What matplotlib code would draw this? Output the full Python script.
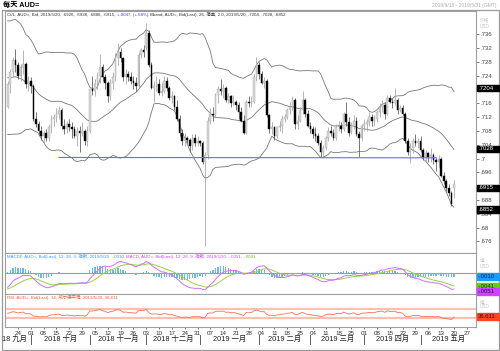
import numpy as np
import pandas as pd
import matplotlib
matplotlib.use('Agg')
import matplotlib.pyplot as plt
from matplotlib.patches import Rectangle
from matplotlib.transforms import blended_transform_factory
from matplotlib.ticker import FuncFormatter

plt.rcParams['font.family'] = ['Liberation Sans', 'Noto Sans CJK SC', 'DejaVu Sans']

W, H = 500, 351

# closes before the visible window (2018-07-02 .. 2018-09-17), used only to warm up the indicators
warmup_close = [
    .7340, .7410, .7395, .7420, .7430, .7455, .7440, .7390, .7400, .7400,
    .7425, .7390, .7370, .7355, .7420, .7405, .7425, .7450, .7410, .7395,
    .7405, .7425,
    .7405, .7395, .7400, .7405, .7440, .7410, .7385, .7300, .7275, .7260,
    .7230, .7250, .7315, .7335, .7370, .7375, .7290, .7320, .7335, .7345,
    .7325, .7230, .7190,
    .7185, .7195, .7175, .7135, .7110, .7135, .7115, .7185, .7175, .7145,
    .7155,
]

# daily bars 2018-09-18 .. 2019-05-20, one line per week
opens = [
    .7150, .7215, .7250, .7285,
    .7270, .7240, .7265, .7275, .7215,
    .7225, .7210, .7115, .7100, .7080,
    .7065, .7075, .7060, .7090, .7115,
    .7120, .7130, .7140, .7095, .7085,
    .7100, .7090, .7085, .7065, .7080,
    .7075, .7080, .7050, .7080, .7200,
    .7195, .7215, .7240, .7265, .7235,
    .7220, .7180, .7220, .7235, .7290,
    .7310, .7290, .7235, .7245, .7235,
    .7225, .7220, .7210, .7300, .7315,
    .7320, .7365, .7270, .7205, .7210,
    .7215, .7190, .7195, .7225, .7205,
    .7175, .7180, .7150, .7115, .7075,
    .7050, .7060, .7055, .7035, .7060,
    .7045, .7050, .7045, .6990, .7010,
    .7110, .7130, .7125, .7185, .7200,
    .7195, .7205, .7170, .7180, .7160,
    .7165, .7155, .7135, .7110, .7075,
    .7165, .7160, .7165, .7235, .7270,
    .7245, .7220, .7225, .7125, .7085,
    .7090, .7065, .7090, .7095, .7115,
    .7120, .7140, .7150, .7170, .7100,
    .7110, .7140, .7170, .7130, .7095,
    .7085, .7070, .7065, .7045, .7020,
    .7030, .7060, .7080, .7075, .7060,
    .7090, .7095, .7085, .7130, .7105,
    .7075, .7095, .7110, .7070, .7060,
    .7095, .7100, .7105, .7120, .7110,
    .7115, .7135, .7150, .7155, .7130,
    .7175, .7165, .7160, .7170, .7140,
    .7145, .7130, .7050, .7020, .7030,
    .7050, .7045, .7050, .7025, .7005,
    .7015, .7005, .7010, .6995, .6990,
    .7000, .6950, .6935, .6915, .6900,
    .6926,
]
highs = [
    .7225, .7260, .7295, .7316,
    .7280, .7275, .7315, .7280, .7240,
    .7235, .7215, .7135, .7110, .7095,
    .7080, .7085, .7100, .7125, .7130,
    .7145, .7152, .7145, .7115, .7110,
    .7115, .7105, .7095, .7090, .7095,
    .7105, .7085, .7095, .7205, .7240,
    .7230, .7250, .7302, .7275, .7245,
    .7225, .7230, .7250, .7305, .7335,
    .7320, .7295, .7260, .7255, .7250,
    .7240, .7235, .7310, .7320, .7330,
    .7394, .7372, .7280, .7225, .7240,
    .7230, .7220, .7240, .7235, .7210,
    .7195, .7185, .7170, .7125, .7085,
    .7075, .7065, .7060, .7070, .7070,
    .7065, .7055, .7050, .7020, .7120,
    .7145, .7150, .7190, .7210, .7230,
    .7215, .7210, .7190, .7185, .7185,
    .7170, .7165, .7150, .7125, .7170,
    .7180, .7180, .7245, .7295, .7280,
    .7255, .7235, .7230, .7130, .7105,
    .7095, .7095, .7110, .7125, .7130,
    .7145, .7165, .7180, .7175, .7125,
    .7150, .7195, .7175, .7140, .7105,
    .7095, .7090, .7075, .7055, .7040,
    .7065, .7090, .7095, .7085, .7100,
    .7110, .7105, .7135, .7165, .7120,
    .7105, .7125, .7120, .7080, .7100,
    .7115, .7115, .7135, .7130, .7125,
    .7140, .7160, .7170, .7165, .7185,
    .7185, .7175, .7205, .7175, .7155,
    .7155, .7135, .7060, .7045, .7060,
    .7070, .7060, .7065, .7030, .7025,
    .7020, .7030, .7015, .7005, .7010,
    .7005, .6960, .6940, .6925, .6905,
    .6938,
]
lows = [
    .7145, .7190, .7235, .7250,
    .7230, .7225, .7245, .7205, .7195,
    .7190, .7110, .7090, .7070, .7055,
    .7041, .7050, .7050, .7075, .7095,
    .7105, .7115, .7085, .7070, .7075,
    .7080, .7060, .7060, .7035, .7020,
    .7065, .7040, .7035, .7075, .7185,
    .7180, .7200, .7220, .7225, .7200,
    .7165, .7170, .7200, .7225, .7270,
    .7280, .7225, .7215, .7225, .7215,
    .7200, .7195, .7205, .7290, .7295,
    .7315, .7265, .7200, .7165, .7195,
    .7185, .7180, .7190, .7195, .7170,
    .7160, .7140, .7110, .7065, .7040,
    .7035, .7045, .7020, .7025, .7035,
    .7035, .7035, .6985, .6746, .7000,
    .7100, .7110, .7120, .7160, .7185,
    .7175, .7165, .7160, .7150, .7155,
    .7140, .7115, .7105, .7070, .7070,
    .7150, .7150, .7160, .7225, .7230,
    .7215, .7205, .7120, .7075, .7070,
    .7055, .7060, .7080, .7075, .7105,
    .7115, .7130, .7140, .7085, .7085,
    .7105, .7130, .7120, .7090, .7075,
    .7060, .7050, .7040, .7005, .7003,
    .7025, .7050, .7065, .7055, .7055,
    .7080, .7075, .7080, .7095, .7065,
    .7070, .7085, .7065, .7005, .7050,
    .7080, .7080, .7095, .7095, .7095,
    .7105, .7120, .7135, .7115, .7125,
    .7160, .7145, .7155, .7130, .7135,
    .7125, .7045, .7010, .6988, .7015,
    .7035, .7030, .7020, .6995, .6990,
    .6990, .6990, .6985, .6965, .6975,
    .6945, .6925, .6905, .6890, .6862,
    .6886,
]
closes = [
    .7215, .7250, .7285, .7270,
    .7240, .7265, .7275, .7215, .7225,
    .7210, .7115, .7100, .7080, .7065,
    .7075, .7060, .7090, .7115, .7120,
    .7130, .7140, .7095, .7085, .7100,
    .7090, .7085, .7065, .7080, .7075,
    .7080, .7050, .7080, .7200, .7195,
    .7215, .7240, .7265, .7235, .7220,
    .7180, .7220, .7235, .7290, .7310,
    .7290, .7235, .7245, .7235, .7225,
    .7220, .7210, .7300, .7315, .7310,
    .7365, .7270, .7205, .7210, .7215,
    .7190, .7195, .7225, .7205, .7175,
    .7180, .7150, .7115, .7075, .7050,
    .7060, .7055, .7035, .7060, .7045,
    .7050, .7045, .6990, .7010, .7110,
    .7130, .7125, .7185, .7200, .7195,
    .7205, .7170, .7180, .7160, .7165,
    .7155, .7135, .7110, .7075, .7165,
    .7160, .7165, .7235, .7270, .7245,
    .7220, .7225, .7125, .7085, .7090,
    .7065, .7090, .7095, .7115, .7120,
    .7140, .7150, .7170, .7100, .7110,
    .7140, .7170, .7130, .7095, .7085,
    .7070, .7065, .7045, .7020, .7030,
    .7060, .7080, .7075, .7060, .7090,
    .7095, .7085, .7130, .7105, .7075,
    .7095, .7110, .7070, .7060, .7095,
    .7100, .7105, .7120, .7110, .7115,
    .7135, .7150, .7155, .7130, .7175,
    .7165, .7160, .7170, .7140, .7145,
    .7130, .7050, .7020, .7030, .7050,
    .7045, .7050, .7025, .7005, .7015,
    .7005, .7010, .6995, .6990, .7000,
    .6950, .6935, .6915, .6900, .6868,
    .6915,
]

# hand drawn support line
trend_dates = ['2018-10-16', '2019-05-09']
trend_vals = [0.7003, 0.7002]

# values printed in the legend lines / axis boxes
last_bands = [0.7204, 0.7028, 0.6852]
last_close = 0.6915
last_macd = [-0.0010, -0.0051, -0.0041]   # hist, macd, signal
last_rsi = 36.611

# price ticks that sit under a value box
hidden_ticks = [0.720, 0.692]

month_names = ['一月', '二月', '三月', '四月', '五月', '六月',
               '七月', '八月', '九月', '十月', '十一月', '十二月']

# ---------------------------------------------------------------
dates = pd.bdate_range('2018-09-18', '2019-05-20')
axis_dates = pd.bdate_range('2018-09-18', '2019-05-31')
o = np.array(opens); h = np.array(highs); l = np.array(lows); c = np.array(closes)
n = len(c)
x = np.arange(n)

full = pd.Series(warmup_close + closes)
mid = full.rolling(26).mean()
sd = full.rolling(26).std(ddof=0)
upper = (mid + 2 * sd).values[-n:]
lower = (mid - 2 * sd).values[-n:]
mid = mid.values[-n:]

ema12 = full.ewm(span=12, adjust=False).mean()
ema26 = full.ewm(span=26, adjust=False).mean()
macd = ema12 - ema26
signal = macd.ewm(span=9, adjust=False).mean()
hist = (macd - signal).values[-n:]
macd = macd.values[-n:]
signal = signal.values[-n:]

delta = full.diff()
gain = delta.clip(lower=0).ewm(alpha=1 / 14, adjust=False).mean()
loss = (-delta.clip(upper=0)).ewm(alpha=1 / 14, adjust=False).mean()
rsi = (100 - 100 / (1 + gain / loss)).values[-n:]


def fx(px):
    return px / W


def fy(py):
    return 1 - py / H


fig = plt.figure(figsize=(W / 100, H / 100), dpi=100)
fig.patches.append(Rectangle((fx(1.5), fy(349.5)), fx(497), fy(9.5) - fy(349.5),
                             transform=fig.transFigure, fill=False,
                             edgecolor='#9a9a9a', lw=0.9))

L, R = 5, 476
ax = fig.add_axes([fx(L), fy(252.7), fx(R) - fx(L), fy(11) - fy(252.7)])
ax_m = fig.add_axes([fx(L), fy(294), fx(R) - fx(L), fy(252.7) - fy(294)])
ax_r = fig.add_axes([fx(L), fy(327), fx(R) - fx(L), fy(294) - fy(327)])

xlim = (-1.07, 182.6)
for a in (ax, ax_m, ax_r):
    a.set_xlim(*xlim)
    for s in a.spines.values():
        s.set_color('#a0a0a0')
        s.set_linewidth(0.8)
    a.tick_params(axis='x', bottom=False, labelbottom=False)
    a.tick_params(axis='y', left=False, labelleft=False)

# ---- price panel
ax.plot(x, upper, color='#777777', lw=0.6, zorder=1)
ax.plot(x, mid, color='#777777', lw=0.6, zorder=1)
ax.plot(x, lower, color='#777777', lw=0.6, zorder=1)

prev = np.r_[o[0], c[:-1]]
up = c >= prev
body_lo = np.minimum(o, c)
body_h = np.maximum(np.abs(c - o), 0.00025)
ax.vlines(x[up], l[up], h[up], color='#a8a8a8', lw=0.6, zorder=2)
ax.vlines(x[~up], l[~up], h[~up], color='#606060', lw=0.6, zorder=2)
ax.bar(x[up], body_h[up], 0.65, bottom=body_lo[up], color='#d8d8d8',
       edgecolor='#a8a8a8', lw=0.3, zorder=3)
ax.bar(x[~up], body_h[~up], 0.65, bottom=body_lo[~up], color='black',
       edgecolor='black', lw=0.3, zorder=3)

t_idx = [dates.get_loc(pd.Timestamp(d)) for d in trend_dates]
ax.plot(t_idx, trend_vals, color='#6a6aff', lw=0.8, zorder=4)

ax.set_ylim(0.6727, 0.74275)
ax.yaxis.tick_right()
ax.set_yticks(np.arange(0.676, 0.7361, 0.004))


def price_label(v, p):
    if any(abs(v - t) < 1e-6 for t in hidden_ticks):
        return ''
    return ('%.3f' % v).rstrip('0').lstrip('0')


ax.yaxis.set_major_formatter(FuncFormatter(price_label))
ax.tick_params(axis='y', right=True, labelright=True, direction='out',
               length=2, width=0.5, pad=1, labelsize=4.3,
               colors='#444444')


def chain(axis, px, py, parts, size):
    prev_t = None
    for s, col in parts:
        if prev_t is None:
            prev_t = axis.text(fx(px), fy(py), s, transform=fig.transFigure,
                               fontsize=size, color=col, ha='left',
                               va='center')
        else:
            prev_t = axis.annotate(s, xy=(1, 0), xycoords=prev_t,
                                   fontsize=size, color=col, ha='left',
                                   va='bottom')


chain(ax, 7, 15, [
    ('Ct/L, AUD=, Bid, 2019/5/20, .6926, .6938, .6886, .6915, ', '#333333'),
    ('+.0047, (+.68%), ', '#3344ff'),
    ('Bband, AUD=, Bid(Last), 26, 简单, 2.0, 2019/5/20, .7204, .7028, .6852',
     '#333333')], 3.2)

# ---- MACD panel
ax_m.bar(x, hist, 0.5, color='#66b8f0', zorder=2)
ax_m.axhline(0, color='#b080ff', lw=0.8, zorder=1)
ax_m.plot(x, signal, color='#99d040', lw=0.7, zorder=3)
ax_m.plot(x, macd, color='#d070f0', lw=0.7, zorder=4)
ax_m.set_ylim(-0.0066, 0.0066)
chain(ax_m, 7, 256.5, [
    ('MACDF, AUD=, Bid(Last), 12, 26, 9, 指数, 2019/5/20, -.0010, ', '#3399ff'),
    ('MACD, AUD=, Bid(Last), 12, 26, 9, 指数, 2019/5/20, -.0051, ', '#cc44ee'),
    ('-.0041', '#77bb22')], 3.2)

# ---- RSI panel
ax_r.axhline(70, color='#ffc0b0', lw=1.6, zorder=1)
ax_r.axhline(30, color='#ffc0b0', lw=1.6, zorder=1)
ax_r.plot(x, rsi, color='#ff7050', lw=0.6, zorder=2)
ax_r.set_ylim(-12.8, 139)
chain(ax_r, 7, 297.5, [
    ('RSI, AUD=, Bid(Last), 14, 威尔德平滑, 2019/5/20, 36.611', '#ff5533')], 3.2)


# ---- value boxes on the right
def value_box(axis, v, text, face, tcolor, dy=0.0):
    ypx = H - axis.transData.transform((0, v))[1] + dy
    fig.patches.append(Rectangle((fx(476.5), fy(ypx + 3.3)), fx(22.5), 6.6 / H,
                                 transform=fig.transFigure, color=face,
                                 zorder=5))
    fig.text(fx(478), fy(ypx), text, fontsize=4.3, color=tcolor,
             ha='left', va='center', zorder=6)


fmt = lambda v: ('%.4f' % v).replace('0.', '.')
for v in last_bands:
    value_box(ax, v, fmt(v), 'black', 'white')
value_box(ax, last_close, fmt(last_close), 'black', 'white')
value_box(ax_m, last_macd[0], '-.0010', '#1e9bff', '#102040')
value_box(ax_m, last_macd[2], '-.0041', '#66cc11', '#203010')
value_box(ax_m, last_macd[1], '-.0051', '#cc44ff', '#301040', dy=2.3)
value_box(ax_r, last_rsi, '36.611', '#ff4422', '#401010')

for txt, ypx in [('价格', 21), ('USD', 26), ('值', 261), ('USD', 266),
                 ('值', 302), ('USD', 307)]:
    fig.text(fx(480), fy(ypx), txt, fontsize=3.4, color='#c4c4c4',
             ha='left', va='center')

# ---- title
fig.text(fx(3), fy(5), '每天 AUD=', fontsize=5.2, color='black',
         fontweight='bold', ha='left', va='center')
fig.text(fx(497), fy(6), '2018/9/18 - 2019/5/31 (GMT)', fontsize=3.6,
         color='#b0b0b0', ha='right', va='center')

# ---- date axis
mondays = [i for i, d in enumerate(axis_dates)
           if d.weekday() == 0 and d >= pd.Timestamp('2018-09-24')]
ax_r.set_xticks(mondays)
ax_r.set_xticklabels([axis_dates[i].strftime('%d') for i in mondays])
ax_r.tick_params(axis='x', bottom=True, labelbottom=True, length=1.5,
                 width=0.5, pad=1.2, labelsize=4.5, colors='#333333')

month_starts = [i for i in range(1, len(axis_dates))
                if axis_dates[i].month != axis_dates[i - 1].month]
tr = blended_transform_factory(ax_r.transData, fig.transFigure)
for i in month_starts:
    ax_r.plot([i, i], [fy(334.5), fy(344)], transform=tr, color='#444444',
              lw=0.6, clip_on=False)
edges = month_starts + [xlim[1]]
for k in range(len(month_starts)):
    d = axis_dates[month_starts[k]]
    ax_r.text((edges[k] + edges[k + 1]) / 2, fy(339.5),
              '%d %s' % (d.year, month_names[d.month - 1]), transform=tr,
              fontsize=5.3, color='#222222', ha='center', va='center')
fig.text(fx(2), fy(339.5), '18 九月', fontsize=5.3, color='#222222',
         ha='left', va='center')

fig.savefig('out.png', dpi=100)
